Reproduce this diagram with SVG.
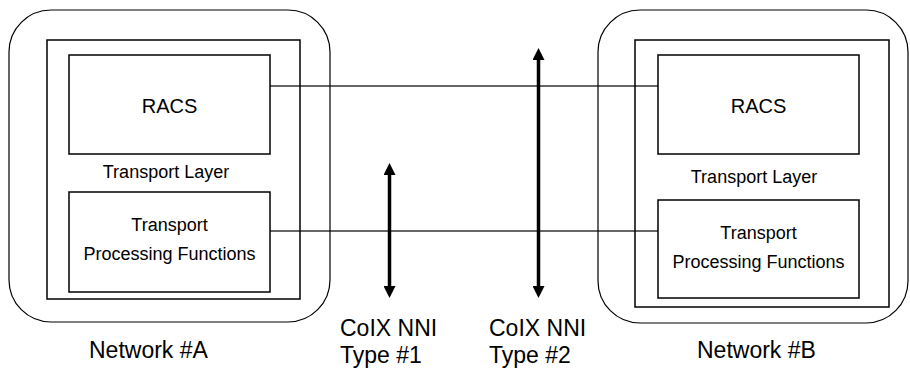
<svg xmlns="http://www.w3.org/2000/svg" width="910" height="372" viewBox="0 0 910 372">
<defs>
<style>
.outer{fill:none;stroke:#000;stroke-width:1.2}
.inner{fill:none;stroke:#000;stroke-width:1.5}
.box{fill:#fff;stroke:#000;stroke-width:1.5}
.conn{stroke:#666;stroke-width:2;fill:none}
.nni{stroke:#000;stroke-width:3.5;fill:none}
text{font-family:"Liberation Sans",Arial,sans-serif;fill:#000;text-anchor:middle}
.big{font-size:23px;text-anchor:start}
.mid{font-size:20px}
.sm{font-size:18px}
</style>
<marker id="ah" viewBox="0 0 12 12" refX="1" refY="6" markerWidth="12" markerHeight="12" markerUnits="userSpaceOnUse" orient="auto-start-reverse">
<path d="M0,0 L12,6 L0,12 z" fill="#000"/>
</marker>
</defs>
<g id="connectors">
<line class="conn" x1="270" y1="86" x2="658" y2="86"/>
<line class="conn" x1="270" y1="231" x2="658" y2="231"/>
<line class="nni" x1="389.5" y1="174" x2="389.5" y2="287" marker-start="url(#ah)" marker-end="url(#ah)"/>
<line class="nni" x1="538.5" y1="59" x2="538.5" y2="287" marker-start="url(#ah)" marker-end="url(#ah)"/>
</g>
<g id="networkA">
<rect class="outer" x="9" y="10" width="321" height="312" rx="42" ry="42"/>
<rect class="inner" x="47" y="40" width="253" height="259"/>
<text class="big" x="89" y="358">Network #A</text>
</g>
<g id="racsA">
<rect class="box" x="69" y="55" width="201" height="99"/>
<text class="mid" x="169.5" y="113">RACS</text>
</g>
<text id="tlA" class="sm" x="166" y="178">Transport Layer</text>
<g id="tpfA">
<rect class="box" x="69" y="192" width="201" height="100"/>
<text class="sm" x="169.5" y="231">Transport</text>
<text class="sm" x="169.5" y="260">Processing Functions</text>
</g>
<g id="networkB">
<rect class="outer" x="598" y="10" width="310" height="313" rx="42" ry="42"/>
<rect class="inner" x="635" y="40" width="254" height="267"/>
<text class="big" x="697" y="358">Network #B</text>
</g>
<g id="racsB">
<rect class="box" x="658" y="55" width="201" height="99"/>
<text class="mid" x="758.5" y="113">RACS</text>
</g>
<text id="tlB" class="sm" x="754" y="183">Transport Layer</text>
<g id="tpfB">
<rect class="box" x="658" y="200" width="201" height="98"/>
<text class="sm" x="758.5" y="239">Transport</text>
<text class="sm" x="758.5" y="268">Processing Functions</text>
</g>
<g id="nni1">
<text class="big" x="340" y="336">CoIX NNI</text>
<text class="big" x="340" y="363">Type #1</text>
</g>
<g id="nni2">
<text class="big" x="489" y="336">CoIX NNI</text>
<text class="big" x="489" y="363">Type #2</text>
</g>
</svg>
